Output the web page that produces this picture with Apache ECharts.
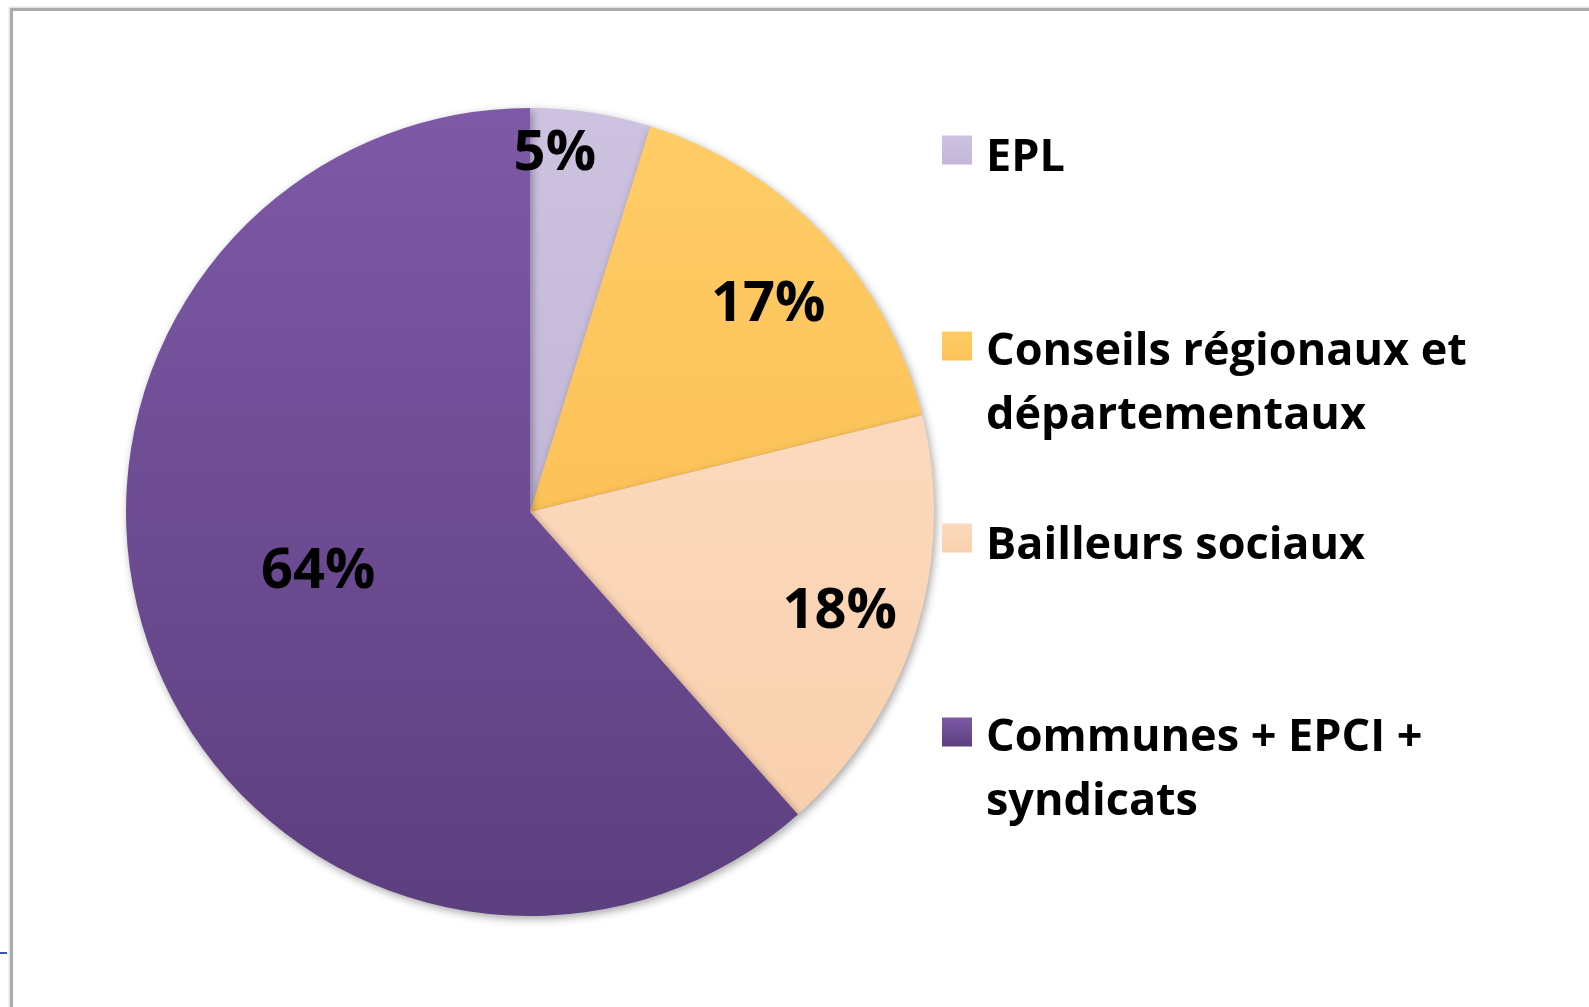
<!DOCTYPE html>
<html>
<head>
<meta charset="utf-8">
<script src="https://cdn.jsdelivr.net/npm/echarts@6/dist/echarts.min.js"></script>
<style>
html,body{margin:0;padding:0;background:#fff;width:1589px;height:1007px;overflow:hidden;}
#frame{position:absolute;left:10px;top:8px;width:1600px;height:1100px;border-top:3px solid #ababab;border-left:3px solid #ababab;box-shadow:-1px -1px 2px rgba(0,0,0,0.15);}
#tick{position:absolute;left:0;top:952px;width:7px;height:2px;background:#2f56a8;}
#chart{position:absolute;left:0;top:0;width:1589px;height:1007px;}
</style>
</head>
<body>
<div id="frame"></div>
<div id="tick"></div>
<div id="chart"></div>
<script>
const categories = ['EPL', 'Conseils régionaux et\ndépartementaux', 'Bailleurs sociaux', 'Communes + EPCI +\nsyndicats'];
const values = [5, 17, 18, 64];
const colors = [
  ['#cdc2e0', '#c3b7d6'],
  ['#ffcc66', '#fcc258'],
  ['#fcd9bd', '#f9d0ae'],
  ['#7e59a7', '#5c3f7f']
];
const labelShift = [[-6, -155], [89, -66], [114, 39], [-20, -13]];
const legendTops = [114, 278, 502, 664];

const FONT = 'Open Sans';
const LH = 64;
const chart = echarts.init(document.getElementById('chart'));

function grad(c) {
  return {type: 'linear', x: 0, y: 0, x2: 0, y2: 1, colorStops: [{offset: 0, color: c[0]}, {offset: 1, color: c[1]}]};
}

function legendText(name) {
  const lines = name.split('\n');
  if (lines.length === 1) {
    return '{s| }\n{t|' + lines[0] + '}';
  }
  return '{b| }\n' + lines.map(l => '{t|' + l + '}').join('\n');
}

const legends = categories.map((name, i) => ({
  data: [name],
  left: 942,
  top: legendTops[i],
  orient: 'vertical',
  padding: 0,
  itemWidth: 30,
  itemHeight: 29,
  icon: 'rect',
  selectedMode: false,
  formatter: legendText,
  textStyle: {
    fontFamily: FONT,
    fontWeight: 'bold',
    fontSize: 45,
    color: '#000',
    rich: {
      t: {fontFamily: FONT, fontWeight: 'bold', fontSize: 45, color: '#000', lineHeight: LH, padding: [0, 0, 0, 9]},
      s: {fontSize: 8, lineHeight: 16},
      b: {fontSize: 8, lineHeight: LH + 12}
    }
  }
}));

chart.setOption({
  animation: false,
  legend: legends,
  series: [{
    type: 'pie',
    center: [530, 512],
    radius: 404,
    startAngle: 90,
    clockwise: true,
    data: categories.map((name, i) => ({
      name: name,
      value: values[i],
      itemStyle: {color: grad(colors[i])}
    })),
    itemStyle: {
      shadowBlur: 8,
      shadowColor: 'rgba(0,0,0,0.35)',
      shadowOffsetX: 2,
      shadowOffsetY: 3
    },
    label: {
      position: 'inside',
      formatter: (p) => p.value + '%',
      fontFamily: FONT,
      fontWeight: 'bold',
      fontSize: 56,
      color: '#000'
    },
    labelLayout: (p) => ({dx: labelShift[p.dataIndex][0], dy: labelShift[p.dataIndex][1]}),
    labelLine: {show: false},
    emphasis: {disabled: true}
  }]
});
</script>
</body>
</html>
